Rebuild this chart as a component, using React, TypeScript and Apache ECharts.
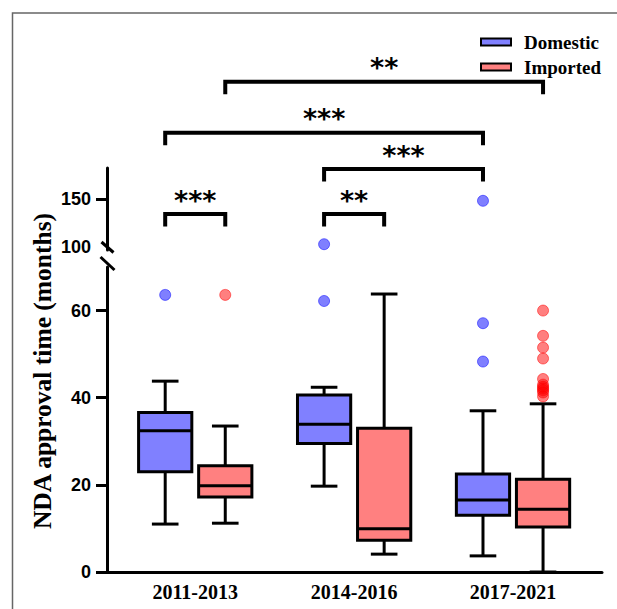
import React, { useEffect, useRef } from "react";
import * as echarts from "echarts";

// ---------- data ----------
const categories = ["2011-2013", "2014-2016", "2017-2021"];
const seriesNames = ["Domestic", "Imported"];
// each entry: [min, Q1, median, Q3, max]
const domesticBox = [
  [11.0, 23.0, 32.4, 36.6, 43.8],
  [19.7, 29.5, 33.9, 40.6, 42.4],
  [3.7, 13.0, 16.5, 22.5, 37.0],
];
const importedBox = [
  [11.2, 17.2, 19.8, 24.4, 33.5],
  [4.1, 7.3, 9.9, 33.0, 63.8],
  [0, 10.3, 14.4, 21.3, 38.6],
];
const domesticOutliers = [[63.6], [62.2, 103], [48.3, 57.1, 148]];
const importedOutliers = [
  [63.6],
  [],
  [60.0, 54.2, 51.5, 49.0, 44.3, 43.0, 42.5, 42.1, 41.7, 41.2, 40.3],
];
const lowerTicks = [0, 20, 40, 60];
const upperTickLabels = [100, 150];
const upperTicks = [150];
// significance brackets: [categoryIndex, seriesIndex] pairs
const brackets = [
  { from: [0, 1], to: [2, 1], label: "**" },
  { from: [0, 0], to: [2, 0], label: "***" },
  { from: [1, 0], to: [2, 0], label: "***" },
  { from: [0, 0], to: [0, 1], label: "***" },
  { from: [1, 0], to: [1, 1], label: "**" },
];

// ---------- layout / style ----------
const W = 617;
const H = 609;
const bracketLineY = [81.7, 132.7, 169, 214, 214];
const OFFSETS = [-0.189, 0.189];
const BOX_W = 0.335;
const COLORS = ["#8080ff", "#ff8080"];
const DOT_COLORS = ["rgba(0,0,255,0.5)", "rgba(255,0,0,0.5)"];
const LOWER_MAX = 70;
const SPLIT_AT = 80;
const SERIF = '"Liberation Serif", "Times New Roman", serif';
const SANS = '"Liberation Sans", Arial, sans-serif';

function boxData(boxes: number[][], s: number) {
  return boxes.map((b, i) => [i + 1 + OFFSETS[s], ...b]);
}
function dotData(outs: number[][], s: number, upper: boolean) {
  const res: number[][] = [];
  outs.forEach((list, i) => {
    list.forEach((v) => {
      if (upper ? v > SPLIT_AT : v <= SPLIT_AT) res.push([i + 1 + OFFSETS[s], v]);
    });
  });
  return res;
}

const renderBox = (color: string) => (params: any, api: any) => {
  const x = api.value(0);
  const mn = api.coord([x, api.value(1)]);
  const q1 = api.coord([x, api.value(2)]);
  const md = api.coord([x, api.value(3)]);
  const q3 = api.coord([x, api.value(4)]);
  const mx = api.coord([x, api.value(5)]);
  const w = api.size([BOX_W, 0])[0];
  const cx = mn[0];
  const cap = w / 2;
  const ls = { stroke: "#000", lineWidth: 3 };
  return {
    type: "group",
    children: [
      { type: "line", shape: { x1: cx, y1: mx[1], x2: cx, y2: q3[1] }, style: ls },
      { type: "line", shape: { x1: cx, y1: q1[1], x2: cx, y2: mn[1] }, style: ls },
      { type: "line", shape: { x1: cx - cap / 2, y1: mx[1], x2: cx + cap / 2, y2: mx[1] }, style: ls },
      { type: "line", shape: { x1: cx - cap / 2, y1: mn[1], x2: cx + cap / 2, y2: mn[1] }, style: ls },
      {
        type: "rect",
        shape: { x: cx - w / 2, y: q3[1], width: w, height: q1[1] - q3[1] },
        style: { fill: color, stroke: "#000", lineWidth: 3 },
      },
      { type: "line", shape: { x1: cx - w / 2, y1: md[1], x2: cx + w / 2, y2: md[1] }, style: ls },
    ],
  };
};

const X_MIN = 0.4447;
const X_MAX = 3.56;

function buildOption(): any {
  const axisLine = { show: true, lineStyle: { color: "#000", width: 3 } };
  return {
    animation: false,
    backgroundColor: "#fff",
    legend: {
      orient: "vertical",
      left: 475,
      top: 27,
      itemWidth: 30,
      itemHeight: 7,
      itemGap: 5,
      data: seriesNames.map((n, i) => ({
        name: n,
        icon: "rect",
        itemStyle: { color: COLORS[i], borderColor: "#000", borderWidth: 2 },
      })),
      textStyle: {
        fontFamily: SERIF,
        fontWeight: "bold",
        fontSize: 19,
        color: "#000",
        lineHeight: 20,
        padding: [0, 0, 0, 8],
      },
      selectedMode: false,
    },
    grid: [
      { left: 107, right: W - 602, top: 267, bottom: H - 572, containLabel: false, outerBoundsMode: "none" },
      { left: 107, right: W - 602, top: 168, bottom: H - 250, containLabel: false, outerBoundsMode: "none" },
    ],
    xAxis: [
      {
        type: "value",
        gridIndex: 0,
        min: X_MIN,
        max: X_MAX,
        axisLine,
        axisTick: { show: false },
        splitLine: { show: false },
        axisLabel: {
          customValues: [1, 2, 3],
          formatter: (v: number) => categories[Math.round(v) - 1] ?? "",
          fontFamily: SERIF,
          fontWeight: "bold",
          fontSize: 20,
          color: "#000",
          margin: 10,
        },
      },
      {
        type: "value",
        gridIndex: 1,
        min: X_MIN,
        max: X_MAX,
        show: false,
        splitLine: { show: false },
      },
    ],
    yAxis: [
      {
        type: "value",
        gridIndex: 0,
        min: 0,
        max: LOWER_MAX,
        axisLine,
        splitLine: { show: false },
        axisTick: { show: true, customValues: lowerTicks, length: 11, lineStyle: { width: 3, color: "#000" } },
        axisLabel: {
          customValues: lowerTicks,
          fontFamily: SANS,
          fontWeight: "bold",
          fontSize: 18,
          color: "#000",
          margin: 16,
        },
      },
      {
        type: "value",
        gridIndex: 1,
        min: 97,
        max: 182,
        axisLine,
        splitLine: { show: false },
        axisTick: { show: true, customValues: upperTicks, length: 11, lineStyle: { width: 3, color: "#000" } },
        axisLabel: {
          customValues: upperTickLabels,
          fontFamily: SANS,
          fontWeight: "bold",
          fontSize: 18,
          color: "#000",
          margin: 16,
        },
      },
    ],
    series: [
      ...[domesticBox, importedBox].map((b, s) => ({
        type: "custom",
        name: seriesNames[s],
        xAxisIndex: 0,
        yAxisIndex: 0,
        itemStyle: { color: COLORS[s] },
        renderItem: renderBox(COLORS[s]),
        encode: { x: 0, y: [1, 2, 3, 4, 5] },
        data: boxData(b, s),
        z: 2,
      })),
      ...[domesticOutliers, importedOutliers].flatMap((o, s) => [
        {
          type: "scatter",
          name: seriesNames[s],
          xAxisIndex: 0,
          yAxisIndex: 0,
          symbolSize: 11,
          itemStyle: { color: DOT_COLORS[s], borderColor: DOT_COLORS[s], borderWidth: 1, opacity: 1 },
          data: dotData(o, s, false),
          z: 3,
        },
        {
          type: "scatter",
          name: seriesNames[s],
          xAxisIndex: 1,
          yAxisIndex: 1,
          symbolSize: 11,
          itemStyle: { color: DOT_COLORS[s], borderColor: DOT_COLORS[s], borderWidth: 1, opacity: 1 },
          data: dotData(o, s, true),
          z: 3,
        },
      ]),
    ],
  };
}

export default function App() {
  const ref = useRef<HTMLDivElement>(null);
  useEffect(() => {
    if (!ref.current) return;
    const chart = echarts.init(ref.current, null, { renderer: "svg" });
    chart.setOption(buildOption());

    const px = (cat: number, s: number) =>
      chart.convertToPixel({ xAxisIndex: 0 } as any, cat + 1 + OFFSETS[s]) as unknown as number;

    const graphics: any[] = [];
    // outer frame
    graphics.push({
      type: "polyline",
      shape: { points: [[12.5, H], [12.5, 13], [W, 13]] },
      style: { stroke: "#666", lineWidth: 1.5, fill: "none" },
      silent: true,
    });
    // axis break slashes
    graphics.push({
      type: "line",
      shape: { x1: 101.5, y1: 242, x2: 113.5, y2: 252.5 },
      style: { stroke: "#000", lineWidth: 3 },
    });
    graphics.push({
      type: "line",
      shape: { x1: 100.5, y1: 257, x2: 114.5, y2: 270 },
      style: { stroke: "#000", lineWidth: 3 },
    });
    // y axis title
    graphics.push({
      type: "text",
      x: 42,
      y: 371,
      rotation: Math.PI / 2,
      style: {
        text: "NDA approval time (months)",
        font: `bold 25.5px ${SERIF}`,
        fill: "#000",
        align: "center",
        verticalAlign: "middle",
      },
    });
    // significance brackets
    brackets.forEach((b, i) => {
      const x1 = px(b.from[0], b.from[1]);
      const x2 = px(b.to[0], b.to[1]);
      const y = bracketLineY[i];
      graphics.push({
        type: "polyline",
        shape: { points: [[x1, y + 12.5], [x1, y], [x2, y], [x2, y + 12.5]] },
        style: { stroke: "#000", lineWidth: 4, fill: "none" },
      });
      graphics.push({
        type: "text",
        x: (x1 + x2) / 2,
        y: y - 14,
        style: {
          text: b.label,
          font: 'bold 27px "DejaVu Sans", sans-serif',
          fill: "#000",
          align: "center",
          verticalAlign: "middle",
        },
      });
    });
    chart.setOption({ graphic: graphics });
    return () => chart.dispose();
  }, []);
  return (
    <div
      ref={ref}
      style={{ position: "absolute", left: 0, top: 0, width: W, height: H }}
    />
  );
}
